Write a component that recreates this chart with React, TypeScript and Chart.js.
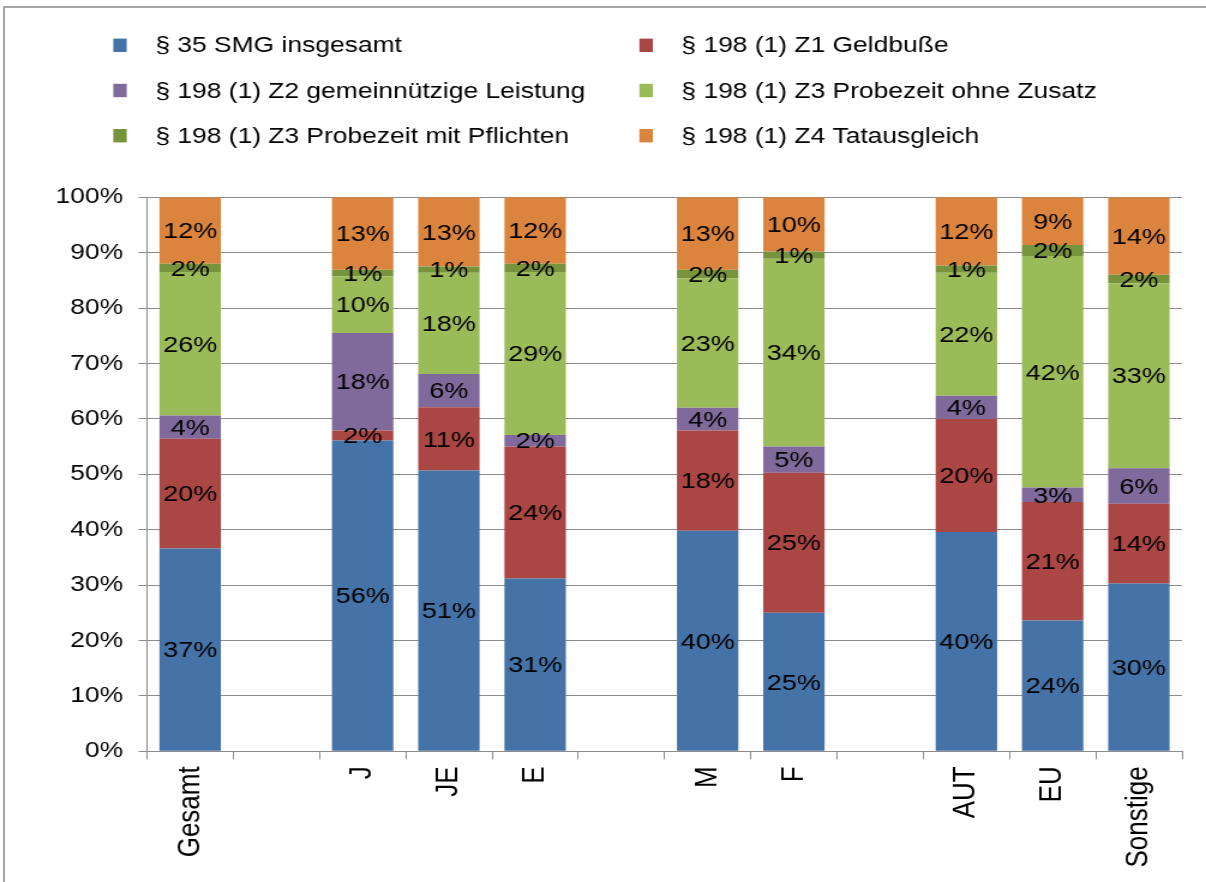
import React, { useEffect, useRef } from 'react';
import { Chart, registerables } from 'chart.js';

Chart.register(...registerables);

const categories = ['Gesamt', '', 'J', 'JE', 'E', '', 'M', 'F', '', 'AUT', 'EU', 'Sonstige'];

const seriesNames = [
  '§ 35 SMG insgesamt',
  '§ 198 (1) Z1 Geldbuße',
  '§ 198 (1) Z2 gemeinnützige Leistung',
  '§ 198 (1) Z3 Probezeit ohne Zusatz',
  '§ 198 (1) Z3 Probezeit mit Pflichten',
  '§ 198 (1) Z4 Tatausgleich',
];

const seriesColors = ['#4572A7', '#AA4643', '#80699B', '#9BBB59', '#77933C', '#DB843D'];

const smg35 = [36.6, null, 56.1, 50.7, 31.2, null, 39.8, 25.0, null, 39.6, 23.6, 30.3];
const z1Geldbusse = [19.8, null, 1.8, 11.4, 23.8, null, 18.1, 25.3, null, 20.4, 21.4, 14.4];
const z2Leistung = [4.2, null, 17.6, 6.0, 2.1, null, 4.1, 4.7, null, 4.2, 2.6, 6.4];
const z3OhneZusatz = [25.9, null, 10.2, 18.3, 29.4, null, 23.4, 33.9, null, 22.2, 41.8, 33.4];
const z3MitPflichten = [1.5, null, 1.2, 1.1, 1.5, null, 1.5, 1.3, null, 1.3, 2.0, 1.5];
const z4Tatausgleich = [12.0, null, 13.1, 12.5, 12.0, null, 13.1, 9.8, null, 12.3, 8.6, 14.0];

const seriesValues = [smg35, z1Geldbusse, z2Leistung, z3OhneZusatz, z3MitPflichten, z4Tatausgleich];

const FONT = '"Liberation Sans", Arial, sans-serif';
const STRETCH = 1.2;
const PAGE_W = 1206;
const PAGE_H = 882;
const CANVAS_W = Math.round(PAGE_W / STRETCH);

const legendPlugin = {
  id: 'gridLegend',
  afterDraw(chart: any) {
    const ctx = chart.ctx;
    const colX = [94.4, 532.8];
    const rowY = [45.3, 90.5, 135.7];
    ctx.save();
    ctx.font = `22px ${FONT}`;
    ctx.textAlign = 'left';
    ctx.textBaseline = 'middle';
    chart.data.datasets.forEach((ds: any, i: number) => {
      const x = colX[i % 2];
      const y = rowY[Math.floor(i / 2)];
      ctx.fillStyle = ds.backgroundColor;
      ctx.fillRect(x, y - 6.7, 11.2, 13.4);
      ctx.fillStyle = '#000';
      ctx.fillText(ds.label, x + 35, y + 1);
    });
    ctx.restore();
  },
};

const segmentLabelPlugin = {
  id: 'segmentLabels',
  afterDatasetsDraw(chart: any) {
    const ctx = chart.ctx;
    ctx.save();
    ctx.font = `22.5px ${FONT}`;
    ctx.fillStyle = '#000';
    ctx.textAlign = 'center';
    ctx.textBaseline = 'middle';
    chart.data.datasets.forEach((ds: any, i: number) => {
      const meta = chart.getDatasetMeta(i);
      meta.data.forEach((el: any, j: number) => {
        const v = ds.data[j];
        if (v === null || v === undefined) return;
        const { x, y, base } = el.getProps(['x', 'y', 'base'], true);
        ctx.fillText(Math.round(v) + '%', x, (y + base) / 2 + 1.5);
      });
    });
    ctx.restore();
  },
};

export default function App() {
  const ref = useRef<HTMLCanvasElement>(null);

  useEffect(() => {
    const canvas = ref.current;
    if (!canvas) return;
    const chart = new Chart(canvas, {
      type: 'bar',
      data: {
        labels: categories,
        datasets: seriesNames.map((name, i) => ({
          label: name,
          data: seriesValues[i],
          backgroundColor: seriesColors[i],
          borderWidth: 0,
          barPercentage: 0.712,
          categoryPercentage: 1,
        })),
      },
      options: {
        responsive: false,
        animation: false,
        devicePixelRatio: 1,
        layout: { padding: { top: 197.3, right: 20, bottom: 0, left: 0 } },
        plugins: {
          legend: { display: false },
          tooltip: { enabled: false },
        },
        scales: {
          x: {
            stacked: true,
            grid: {
              offset: true,
              drawOnChartArea: false,
              drawTicks: true,
              tickLength: 8,
              color: '#8c8c8c',
              lineWidth: 1,
            },
            border: { display: true, color: '#8c8c8c', width: 1 },
            ticks: {
              autoSkip: false,
              maxRotation: 90,
              minRotation: 90,
              padding: 7,
              color: '#000',
              font: { family: FONT, size: 26 },
            },
            afterFit: (s: any) => {
              s.height = 130.7;
            },
          },
          y: {
            stacked: true,
            min: 0,
            max: 100,
            grid: {
              color: '#8c8c8c',
              lineWidth: 1,
              drawTicks: true,
              tickLength: 7,
            },
            border: { display: true, color: '#8c8c8c', width: 1 },
            ticks: {
              stepSize: 10,
              padding: 13,
              color: '#000',
              font: { family: FONT, size: 22 },
              callback: (v: any) => v + '%',
            },
            afterFit: (s: any) => {
              s.width = 122.5;
            },
          },
        },
      },
      plugins: [legendPlugin, segmentLabelPlugin],
    } as any);
    return () => chart.destroy();
  }, []);

  return (
    <div
      style={{
        position: 'fixed',
        left: 0,
        top: 0,
        width: PAGE_W,
        height: PAGE_H,
        background: '#fff',
        overflow: 'hidden',
      }}
    >
      <div
        style={{
          position: 'absolute',
          left: 3,
          top: 6,
          width: PAGE_W,
          height: PAGE_H,
          borderTop: '2px solid #a6a6a6',
          borderLeft: '2px solid #a6a6a6',
        }}
      />
      <canvas
        ref={ref}
        width={CANVAS_W}
        height={PAGE_H}
        style={{
          position: 'absolute',
          left: 0,
          top: 0,
          width: PAGE_W + 'px',
          height: PAGE_H + 'px',
        }}
      />
    </div>
  );
}
